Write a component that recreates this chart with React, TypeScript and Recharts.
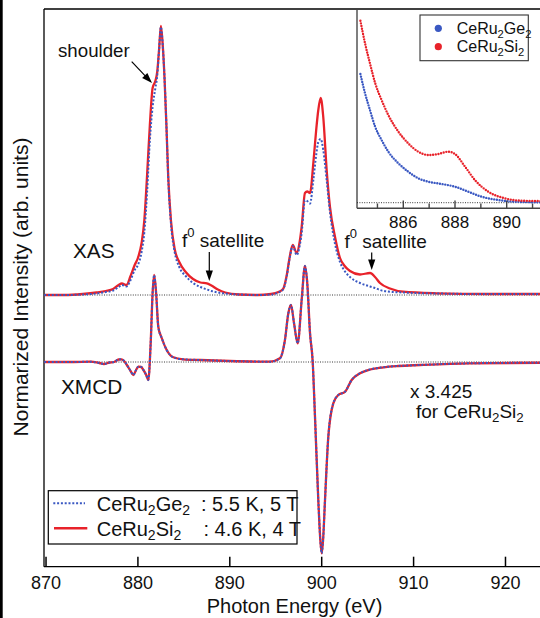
import React from 'react';
import { LineChart, Line, XAxis, YAxis, ReferenceLine } from 'recharts';

// ---------- data (arb. units) ----------
const xTicks = [870, 880, 890, 900, 910, 920];

const xasEnergy = [
  869.8, 872, 874, 875.5, 876.5, 877.3, 877.9, 878.25, 878.75, 879.2, 879.65, 880.0, 880.4, 880.7,
  881.0, 881.3, 881.6, 881.9, 882.1, 882.3, 882.5, 882.7, 882.9, 883.1, 883.3, 883.6, 884.0, 884.5,
  885.2, 886.0, 886.8, 887.5, 888.0, 888.7, 889.5, 891, 893, 894.5, 895.3, 895.8, 896.2, 896.5,
  896.85, 897.28, 897.6, 897.82, 898.18, 898.43, 898.73, 899.09, 899.4, 899.63, 899.89, 900.17,
  900.54, 900.9, 901.45, 901.99, 902.5, 903.08, 904.17, 905.26, 905.8, 906.34, 907.43, 908.85,
  912.5, 918, 924.3,
];
const xasSi = [
  0, 0, 1, 2.5, 4, 6, 10, 11.5, 10, 19, 30, 37, 52, 75,
  120, 170, 207, 214, 223, 245, 269, 250, 216, 170, 118, 74, 46, 33,
  23, 16, 12.5, 11.7, 9.5, 5.5, 2.5, 0.5, 0, 1, 3, 6, 20, 37,
  50, 42, 53, 68, 102, 103.5, 102, 132, 165, 185, 197, 178,
  125, 88, 58, 37, 29, 24, 20.5, 22, 18, 12, 6.5, 3.3,
  1.7, 1, 1,
];
const xasGe = [
  0, 0, 0.5, 1.5, 3, 4.5, 8, 10, 8.5, 15, 25, 30, 43, 63,
  103, 155, 188, 207, 219, 245, 268, 250, 216, 170, 117, 71, 43, 28,
  19, 12, 8, 5.5, 4, 2.5, 1.5, 0.5, 0, 0.5, 2.5, 5.5, 19, 36,
  49, 40, 49, 62, 95, 94, 91.5, 115, 140, 153, 156, 145,
  115, 83, 51, 33, 24, 18, 12, 8.5, 7, 5, 3.3, 2.5,
  1.5, 1, 1,
];

const xmcdEnergy = [
  869.8, 873, 874.8, 875.8, 876.3, 876.9, 877.4, 877.9, 878.2, 878.5, 878.8, 879.2, 879.5, 879.8,
  880.04, 880.35, 880.6, 880.9, 881.13, 881.39, 881.6, 881.77, 881.98, 882.22, 882.59, 883.13,
  883.85, 884.94, 886.76, 890, 894.37, 895.46, 896.0, 896.37, 896.66, 896.99, 897.39, 897.82,
  898.18, 898.43, 898.73, 899.02, 899.27, 899.63, 899.85, 900.0, 900.15, 900.36, 900.72, 901.26,
  901.81, 902.54, 903.26, 904.17, 905.26, 906.7, 908.33, 910.7, 916.1, 924.3,
];
const xmcdSi = [
  0, 0, 0.3, -1, -2, -0.5, 0, 2.5, 2.7, 1, -3, -9, -13, -8,
  -4.7, -5, -8, -13, -18, 19, 69, 87, 69, 35, 24, 12,
  4.7, 2.7, 2, 1, 0.3, 3.7, 22, 48.7, 57, 38.7, 18.7, 62,
  96, 78.7, 28.7, 0.3, -54.7, -138, -178, -191.3, -178, -138, -74.7, -41.3,
  -33, -29.7, -18, -11.3, -7.5, -5.3, -4, -3, -1.3, -0.7,
];
const xmcdGe = [
  0, 0, 0.3, -1, -2, -0.5, 0, 2.5, 2.7, 1, -3, -9, -13, -8,
  -4.7, -5, -8, -13, -18, 19, 69, 87, 69, 35, 24, 12,
  4.7, 2.7, 2, 1, 0.3, 3.7, 22, 48.7, 57, 38.7, 18.7, 62,
  96, 78.7, 28.7, 0.3, -54.7, -138, -178, -191.3, -178, -138, -74.7, -41.3,
  -33, -29.7, -18, -11.3, -7.5, -5.3, -4, -3, -1.3, -0.7,
];

const insetSiEnergy = [
  884.34, 884.52, 884.71, 884.91, 885.16, 885.42, 885.81, 886.19, 886.58, 886.97, 887.35, 887.74,
  888.0, 888.39, 888.77, 889.29, 889.93, 890.58, 891.22, 891.55,
];
const insetSi = [182, 159.4, 139.4, 119.7, 102.7, 87.7, 71, 59.4, 51, 47.7, 48.7, 51, 48.7, 36, 22.7, 11, 4.4, 2, 1.7, 1.5];
const insetGeEnergy = [
  884.34, 884.52, 884.71, 884.91, 885.16, 885.42, 885.81, 886.19, 886.58, 886.97, 887.49, 888.0,
  888.51, 889.03, 889.67, 890.32, 891.22, 891.55,
];
const insetGe = [128.7, 109.4, 92.7, 76, 62.7, 51, 39.4, 31, 24.4, 21, 18.7, 16, 11, 6, 2.7, 1, 0.4, 0.3];
const insetMajorTicks = [886, 888, 890];
const insetMinorTicks = [885, 887, 889, 891];

// ---------- styling / layout ----------
const XMCD_OFFSET = -67;
const X_DOMAIN: [number, number] = [869.78, 924.3];
const Y_DOMAIN: [number, number] = [-271.7, 286];
const IX_DOMAIN: [number, number] = [884.209, 891.559];
const IY_DOMAIN: [number, number] = [-5.6, 192.7];
const RED = '#e8222a';
const BLUE = '#3a58c2';
const FONT = '"Liberation Sans", Arial, Helvetica, sans-serif';

const toRows = (xs: number[], ys: number[], off = 0) => xs.map((e, i) => ({ e, v: ys[i] + off }));
const xasSiData = toRows(xasEnergy, xasSi);
const xasGeData = toRows(xasEnergy, xasGe);
const xmcdSiData = toRows(xmcdEnergy, xmcdSi, XMCD_OFFSET);
const xmcdGeData = toRows(xmcdEnergy, xmcdGe, XMCD_OFFSET);
const insetSiData = toRows(insetSiEnergy, insetSi);
const insetGeData = toRows(insetGeEnergy, insetGe);

const MainTick = (props: any) => {
  const { x, y, payload } = props;
  return (
    <g>
      <line x1={x} x2={x} y1={y} y2={y - 10} stroke="#000" strokeWidth={1.5} />
      <text x={x} y={y + 22.3} textAnchor="middle" fontSize={18} fontFamily={FONT} fill="#111">
        {payload.value}
      </text>
    </g>
  );
};

const InsetTick = (props: any) => {
  const { x, y, payload } = props;
  return (
    <g>
      <line x1={x} x2={x} y1={y} y2={y - 7.7} stroke="#444" strokeWidth={1.4} />
      <text x={x} y={y + 19.5} textAnchor="middle" fontSize={17} fontFamily={FONT} fill="#111">
        {payload.value}
      </text>
    </g>
  );
};

const Formula = ({ a, b }: { a: string; b: string }) => (
  <>
    <tspan>{a}</tspan>
    <tspan fontSize="0.7em" dy={4}>2</tspan>
    <tspan dy={-4}>{b}</tspan>
    <tspan fontSize="0.7em" dy={4}>2</tspan>
  </>
);

const Arrow = ({ x1, y1, x2, y2 }: { x1: number; y1: number; x2: number; y2: number }) => {
  const dx = x2 - x1;
  const dy = y2 - y1;
  const len = Math.sqrt(dx * dx + dy * dy);
  const ux = dx / len;
  const uy = dy / len;
  const hl = 10.5;
  const hw = 3.6;
  const bx = x2 - ux * hl;
  const by = y2 - uy * hl;
  const px = -uy;
  const py = ux;
  return (
    <g>
      <line x1={x1} y1={y1} x2={bx + ux} y2={by + uy} stroke="#000" strokeWidth={1.2} />
      <polygon
        points={`${x2},${y2} ${bx + px * hw},${by + py * hw} ${bx - px * hw},${by - py * hw}`}
        fill="#000"
      />
    </g>
  );
};

export default function App() {
  return (
    <div
      style={{
        position: 'absolute',
        left: 0,
        top: 0,
        width: 540,
        height: 618,
        overflow: 'hidden',
        background: '#fff',
        fontFamily: FONT,
      }}
    >
      <div style={{ position: 'absolute', left: 0, top: 0 }}>
        <LineChart width={545} height={618} margin={{ top: 9, right: 0, bottom: 11.3, left: 44 }}>
          <XAxis
            type="number"
            dataKey="e"
            domain={X_DOMAIN}
            allowDataOverflow
            ticks={xTicks}
            interval={0}
            height={40}
            tickSize={0}
            tickMargin={0}
            tickLine={false}
            axisLine={{ stroke: '#000', strokeWidth: 1.3 }}
            tick={(p: any) => <MainTick {...p} />}
          />
          <YAxis type="number" domain={Y_DOMAIN} allowDataOverflow hide />
          <ReferenceLine y={Y_DOMAIN[1]} stroke="#000" strokeWidth={1.3} />
          <ReferenceLine x={X_DOMAIN[0]} stroke="#000" strokeWidth={1.3} />
          <ReferenceLine y={0} stroke="#222" strokeWidth={0.9} strokeDasharray="1 1.4" />
          <ReferenceLine y={XMCD_OFFSET} stroke="#222" strokeWidth={0.9} strokeDasharray="1 1.4" />
          <Line data={xasSiData} dataKey="v" type="monotone" stroke={RED} strokeWidth={2.3} dot={false} isAnimationActive={false} />
          <Line data={xasGeData} dataKey="v" type="monotone" stroke={BLUE} strokeWidth={2} strokeDasharray="2 1.8" dot={false} isAnimationActive={false} />
          <Line data={xmcdSiData} dataKey="v" type="monotone" stroke={RED} strokeWidth={2.3} dot={false} isAnimationActive={false} />
          <Line data={xmcdGeData} dataKey="v" type="monotone" stroke={BLUE} strokeWidth={2} strokeDasharray="2 1.8" dot={false} isAnimationActive={false} />
        </LineChart>
      </div>

      {/* inset */}
      <div style={{ position: 'absolute', left: 355, top: 10, background: '#fff' }}>
        <LineChart width={192} height={224} margin={{ top: 0, right: 0, bottom: 0, left: 2 }}>
          <XAxis
            type="number"
            dataKey="e"
            domain={IX_DOMAIN}
            allowDataOverflow
            ticks={insetMajorTicks}
            interval={0}
            height={25.7}
            tickSize={0}
            tickMargin={0}
            tickLine={false}
            axisLine={{ stroke: '#444', strokeWidth: 1.4 }}
            tick={(p: any) => <InsetTick {...p} />}
          />
          <YAxis type="number" domain={IY_DOMAIN} allowDataOverflow hide />
          <ReferenceLine x={IX_DOMAIN[0]} stroke="#555" strokeWidth={1.5} />
          {insetMinorTicks.map((t) => (
            <ReferenceLine
              key={t}
              ifOverflow="visible"
              segment={[{ x: t, y: IY_DOMAIN[0] + 0.3 }, { x: t, y: IY_DOMAIN[0] + 4.8 }]}
              stroke="#444"
              strokeWidth={1.4}
            />
          ))}
          <ReferenceLine y={0} stroke="#222" strokeWidth={0.9} strokeDasharray="1 1.4" />
          <Line data={insetGeData} dataKey="v" type="monotone" stroke={BLUE} strokeWidth={2.4} strokeLinecap="round" strokeDasharray="0 2.7" dot={false} isAnimationActive={false} />
          <Line data={insetSiData} dataKey="v" type="monotone" stroke={RED} strokeWidth={2.4} strokeLinecap="round" strokeDasharray="0 2.7" dot={false} isAnimationActive={false} />
        </LineChart>
      </div>

      {/* annotations */}
      <svg
        width={540}
        height={618}
        style={{ position: 'absolute', left: 0, top: 0, pointerEvents: 'none' }}
        fontFamily={FONT}
      >
        <rect x={0} y={0} width={2.7} height={618} fill="#000" />

        <text x={27.5} y={287} transform="rotate(-90 27.5 287)" textAnchor="middle" fontSize={21} fill="#111">
          Normarized Intensity (arb. units)
        </text>
        <text x={294.5} y={613} textAnchor="middle" fontSize={20} fill="#111">
          Photon Energy (eV)
        </text>

        <text x={58} y={57} fontSize={18.7} fill="#111">shoulder</text>
        <Arrow x1={131.7} y1={61.7} x2={152} y2={83} />

        <text x={73} y={258} fontSize={20.8} fill="#111">XAS</text>

        <text x={182} y={247} fontSize={19} fill="#111">
          f<tspan fontSize={13} dy={-10}>0</tspan>
          <tspan dy={10}> satellite</tspan>
        </text>
        <Arrow x1={209.3} y1={252} x2={209.3} y2={281} />

        <text x={344.5} y={247.5} fontSize={19} fill="#111">
          f<tspan fontSize={13} dy={-10}>0</tspan>
          <tspan dy={10}> satellite</tspan>
        </text>
        <Arrow x1={371.7} y1={252.5} x2={371.7} y2={270} />

        <text x={61} y={394} fontSize={20.8} fill="#111">XMCD</text>

        <text x={410} y={397.5} fontSize={19} fill="#111">x 3.425</text>
        <text x={416} y={418} fontSize={19} fill="#111">
          for <Formula a="CeRu" b="Si" />
        </text>

        {/* main legend */}
        <rect x={48.3} y={490.7} width={248.7} height={53.3} fill="#fff" stroke="#000" strokeWidth={1.2} />
        <line x1={53.3} x2={85} y1={503.3} y2={503.3} stroke={BLUE} strokeWidth={2} strokeDasharray="2 1.8" />
        <line x1={54} x2={87.3} y1={528.3} y2={528.3} stroke={RED} strokeWidth={2.5} />
        <text x={96.7} y={510.5} fontSize={20} fill="#111">
          <Formula a="CeRu" b="Ge" />
        </text>
        <text x={201} y={510.5} fontSize={20} fill="#111">: 5.5 K, 5 T</text>
        <text x={96.7} y={535.5} fontSize={20} fill="#111">
          <Formula a="CeRu" b="Si" />
        </text>
        <text x={203.5} y={535.5} fontSize={20} fill="#111">: 4.6 K, 4 T</text>

        {/* inset legend */}
        <rect x={420} y={15} width={108.3} height={45.7} fill="#fff" stroke="#333" strokeWidth={1.1} />
        <circle cx={438.3} cy={28.3} r={3.6} fill={BLUE} />
        <circle cx={438.3} cy={46.7} r={3.6} fill={RED} />
        <text x={456.7} y={33.5} fontSize={16} fill="#111">
          <Formula a="CeRu" b="Ge" />
        </text>
        <text x={456.7} y={52} fontSize={16} fill="#111">
          <Formula a="CeRu" b="Si" />
        </text>
      </svg>
    </div>
  );
}
